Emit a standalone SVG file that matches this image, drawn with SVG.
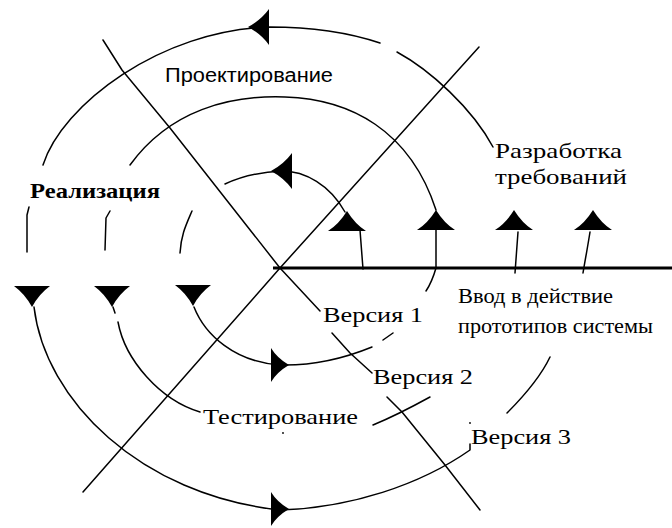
<svg xmlns="http://www.w3.org/2000/svg" xmlns:xlink="http://www.w3.org/1999/xlink" width="672" height="528" viewBox="0 0 672 528">
<style>
.ln{fill:none;stroke:#000;stroke-width:1.5;stroke-linecap:round;stroke-linejoin:round}
.axis{fill:none;stroke:#000;stroke-width:3}
.ah{fill:#000;stroke:none}
.serif{font-family:"Liberation Serif","Times New Roman",serif;font-size:21px;fill:#000}
.sans{font-family:"Liberation Sans",Arial,sans-serif;font-size:20px;fill:#000}
</style>
<defs>
<path id="up" d="M0,0 Q-8,13 -19,20 L19,20 Q8,13 0,0 Z"/>
<path id="down" d="M-18,0 L18,0 Q7,8 0,21 Q-7,8 -18,0 Z"/>
<path id="left" d="M0,0 Q13,-7 21,-18 L21,18 Q13,7 0,0 Z"/>
<path id="right" d="M0,0 Q-12,-7 -18,-17 L-18,17 Q-12,7 0,0 Z"/>
</defs>
<rect width="672" height="528" fill="#fff"/>
<g id="connectors">
<path id="axis" class="axis" d="M273,268 L672,268"/>
<path id="diag1" class="ln" d="M103,40 L122,70 L170,128 L280,268 L320,311 M332,333 L350,353 L372,373 M387,397 L402,412 L445,465 L480,510"/>
<path id="diag2" class="ln" d="M83,492 L280,268 L479,47"/>
<path id="arc-top3" class="ln" d="M43,165 C62,105 160,30 270,27 C310,27 350,33 380,43 M397,52 C430,70 472,108 493,147"/>
<path id="arc-top2" class="ln" d="M130,165 C170,110 230,95 285,97 C350,99 410,130 436,210"/>
<path id="arc-top1" class="ln" d="M225,184 C240,177 260,172 282,171 C305,171 330,185 345,212"/>
<path id="left-stems" class="ln" d="M29,207 L27,215 L27,252 M110,211 L106,218 L105,250 M192,211 C186,225 181,235 180,253"/>
<path id="up-stems" class="ln" d="M360,230 L363,269 M436,230 L436,268 M518,232 L515,273 M590,232 C588,245 586,255 583,273"/>
<path id="arc-bot1" class="ln" d="M194,307 C205,335 235,362 280,365 C320,366 350,356 372,347 M383,340 L393,333 M426,291 Q432,282 436,268"/>
<path id="arc-bot2" class="ln" d="M113,307 L115,313 M118,322 C125,360 160,400 200,412 M373,425 C390,418 410,408 430,397"/>
<path id="arc-bot3" class="ln" d="M34,307 C45,400 140,495 280,510 C350,508 420,485 470,450 L470,444 M507,413 C522,398 540,378 550,357"/>
</g>
<g id="arrowheads" class="ah">
<use xlink:href="#left" x="248" y="27"/>
<use xlink:href="#left" x="271" y="171"/>
<use xlink:href="#up" x="347" y="211"/>
<use xlink:href="#up" x="436" y="210"/>
<use xlink:href="#up" x="514" y="210"/>
<use xlink:href="#up" x="593" y="210"/>
<use xlink:href="#down" x="32" y="286"/>
<use xlink:href="#down" x="112" y="286"/>
<use xlink:href="#down" x="193" y="285"/>
<use xlink:href="#right" x="289" y="365"/>
<use xlink:href="#right" x="289" y="509"/>
<circle cx="283" cy="433" r="0.9"/>
<circle cx="470" cy="423" r="0.9"/>
</g>
<g id="label-design"><text class="sans" x="165" y="82" textLength="168" lengthAdjust="spacingAndGlyphs">Проектирование</text></g>
<g id="label-requirements">
<text class="serif" x="495" y="158" textLength="127" lengthAdjust="spacingAndGlyphs">Разработка</text>
<text class="serif" x="495" y="184" textLength="132" lengthAdjust="spacingAndGlyphs">требований</text>
</g>
<g id="label-implementation"><text class="serif" x="30" y="198" font-weight="bold" textLength="130" lengthAdjust="spacingAndGlyphs">Реализация</text></g>
<g id="label-deployment">
<text class="serif" x="458" y="303" textLength="155" lengthAdjust="spacingAndGlyphs">Ввод в действие</text>
<text class="serif" x="458" y="333" textLength="195" lengthAdjust="spacingAndGlyphs">прототипов системы</text>
</g>
<g id="label-v1"><text class="serif" x="323" y="322" textLength="100" lengthAdjust="spacingAndGlyphs">Версия 1</text></g>
<g id="label-v2"><text class="serif" x="373" y="384" textLength="100" lengthAdjust="spacingAndGlyphs">Версия 2</text></g>
<g id="label-v3"><text class="serif" x="471" y="444" textLength="100" lengthAdjust="spacingAndGlyphs">Версия 3</text></g>
<g id="label-testing"><text class="serif" x="203" y="424" textLength="155" lengthAdjust="spacingAndGlyphs">Тестирование</text></g>
</svg>
